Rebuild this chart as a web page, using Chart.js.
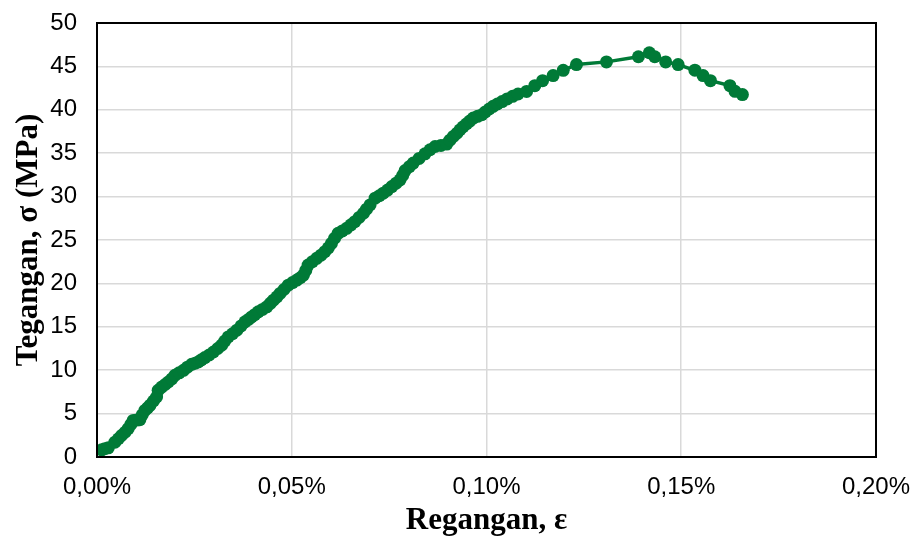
<!DOCTYPE html>
<html>
<head>
<meta charset="utf-8">
<script src="https://cdn.jsdelivr.net/npm/chart.js@4"></script>
<style>
  html, body { margin: 0; padding: 0; background: #fff; }
  #wrap { width: 913px; height: 542px; }
</style>
</head>
<body>
<div id="wrap"><canvas id="grafik"></canvas></div>
<script>
"use strict"
// Regangan (%) dan tegangan (MPa)
const regangan = [
  0.0012, 0.0020, 0.0029, 0.0046, 0.0055, 0.0063, 0.0072, 0.0080, 0.0087, 0.0093,
  0.0102, 0.0110, 0.0116, 0.0123, 0.0130, 0.0136, 0.0145, 0.0153, 0.0157, 0.0166,
  0.0175, 0.0183, 0.0192, 0.0200, 0.0211, 0.0222, 0.0232, 0.0243, 0.0252, 0.0260,
  0.0268, 0.0277, 0.0288, 0.0299, 0.0310, 0.0320, 0.0328, 0.0337, 0.0348, 0.0359,
  0.0370, 0.0380, 0.0389, 0.0397, 0.0405, 0.0414, 0.0425, 0.0436, 0.0445, 0.0453,
  0.0462, 0.0470, 0.0480, 0.0491, 0.0502, 0.0513, 0.0522, 0.0530, 0.0536, 0.0542,
  0.0553, 0.0564, 0.0575, 0.0585, 0.0594, 0.0602, 0.0610, 0.0619, 0.0630, 0.0641,
  0.0652, 0.0662, 0.0673, 0.0684, 0.0692, 0.0701, 0.0714, 0.0725, 0.0735, 0.0746,
  0.0757, 0.0768, 0.0778, 0.0785, 0.0791, 0.0802, 0.0812, 0.0827, 0.0842, 0.0855,
  0.0868, 0.0883, 0.0898, 0.0906, 0.0915, 0.0924, 0.0932, 0.0940, 0.0949, 0.0957,
  0.0966, 0.0977, 0.0988, 0.0997, 0.1007, 0.1017, 0.1028, 0.1040, 0.1053, 0.1067,
  0.1081, 0.1103, 0.1124, 0.1144, 0.1171, 0.1197, 0.1231, 0.1308, 0.1390, 0.1418,
  0.1432, 0.1460, 0.1492, 0.1535, 0.1556, 0.1575, 0.1625, 0.1638, 0.1657
];
const tegangan = [
  0.83, 0.95, 1.06, 1.71, 2.10, 2.48, 2.85, 3.26, 3.75, 4.21,
  4.25, 4.30, 4.85, 5.37, 5.65, 5.95, 6.45, 6.91, 7.68, 8.06,
  8.35, 8.64, 9.00, 9.41, 9.70, 9.99, 10.35, 10.68, 10.80, 10.95,
  11.20, 11.45, 11.75, 12.10, 12.50, 12.88, 13.35, 13.83, 14.20, 14.61,
  15.10, 15.57, 15.85, 16.14, 16.40, 16.72, 17.00, 17.30, 17.70, 18.07,
  18.45, 18.85, 19.30, 19.80, 20.10, 20.38, 20.65, 20.96, 21.50, 22.11,
  22.50, 22.89, 23.25, 23.65, 24.10, 24.62, 25.20, 25.77, 26.05, 26.35,
  26.75, 27.11, 27.60, 28.08, 28.55, 29.04, 29.82, 30.10, 30.39, 30.75,
  31.15, 31.55, 31.93, 32.45, 33.00, 33.45, 33.86, 34.40, 34.93, 35.40,
  35.77, 35.90, 36.05, 36.50, 36.93, 37.30, 37.70, 38.05, 38.39, 38.70,
  39.05, 39.25, 39.43, 39.75, 40.09, 40.40, 40.67, 40.95, 41.25, 41.55,
  41.82, 42.12, 42.78, 43.36, 43.94, 44.55, 45.21, 45.52, 46.11, 46.57,
  46.11, 45.52, 45.21, 44.56, 43.94, 43.36, 42.78, 42.13, 41.75
];
const xTicks = [0, 0.05, 0.10, 0.15, 0.20];
const yTicks = [0, 5, 10, 15, 20, 25, 30, 35, 40, 45, 50];

const hijau = '#007A37';

// bingkai hitam di sekeliling area plot
const bingkai = {
  id: 'bingkai',
  afterDatasetsDraw(chart) {
    const {ctx, chartArea: a} = chart;
    ctx.save();
    ctx.strokeStyle = '#000';
    ctx.lineWidth = 2;
    ctx.strokeRect(a.left, a.top, a.right - a.left, a.bottom - a.top);
    ctx.restore();
  }
};

new Chart(document.getElementById('grafik'), {
  type: 'scatter',
  data: {
    datasets: [{
      data: regangan.map((x, i) => ({x: x, y: tegangan[i]})),
      showLine: true,
      borderColor: hijau,
      backgroundColor: hijau,
      borderWidth: 3.5,
      pointRadius: 6.5,
      pointBorderWidth: 0,
      pointHoverRadius: 6.5
    }]
  },
  plugins: [bingkai],
  options: {
    responsive: true,
    maintainAspectRatio: false,
    animation: false,
    layout: { padding: { top: 23, right: 37, left: 0, bottom: 0 } },
    plugins: { legend: { display: false }, tooltip: { enabled: false } },
    scales: {
      x: {
        type: 'linear',
        min: 0, max: 0.2,
        afterBuildTicks: (s) => { s.ticks = xTicks.map(v => ({value: v})); },
        afterFit: (s) => {
          s.height = 85;
          s.paddingLeft = 0; s.paddingRight = 0;
        },
        grid: { color: '#D9D9D9', lineWidth: 1.5, drawTicks: false },
        border: { display: false },
        ticks: {
          padding: 16,
          color: '#000',
          font: { family: 'Liberation Sans, Arial', size: 24 },
          maxRotation: 0,
          callback: (v) => v.toFixed(2).replace('.', ',') + '%'
        },
        title: {
          display: true,
          text: 'Regangan, ε',
          color: '#000',
          font: { family: 'Liberation Serif, Times New Roman', size: 31, weight: 'bold' },
          padding: { top: 0, bottom: 2 }
        }
      },
      y: {
        min: 0, max: 50,
        afterBuildTicks: (s) => { s.ticks = yTicks.map(v => ({value: v})); },
        afterFit: (s) => {
          s.width = 97;
          s.paddingTop = 0; s.paddingBottom = 0;
        },
        grid: { color: '#D9D9D9', lineWidth: 1.5, drawTicks: false },
        border: { display: false },
        ticks: {
          padding: 20,
          color: '#000',
          font: { family: 'Liberation Sans, Arial', size: 24 }
        },
        title: {
          display: true,
          text: 'Tegangan, σ (MPa)',
          color: '#000',
          font: { family: 'Liberation Serif, Times New Roman', size: 31, weight: 'bold' },
          padding: { top: 10, bottom: 0 }
        }
      }
    }
  }
});
</script>
</body>
</html>
